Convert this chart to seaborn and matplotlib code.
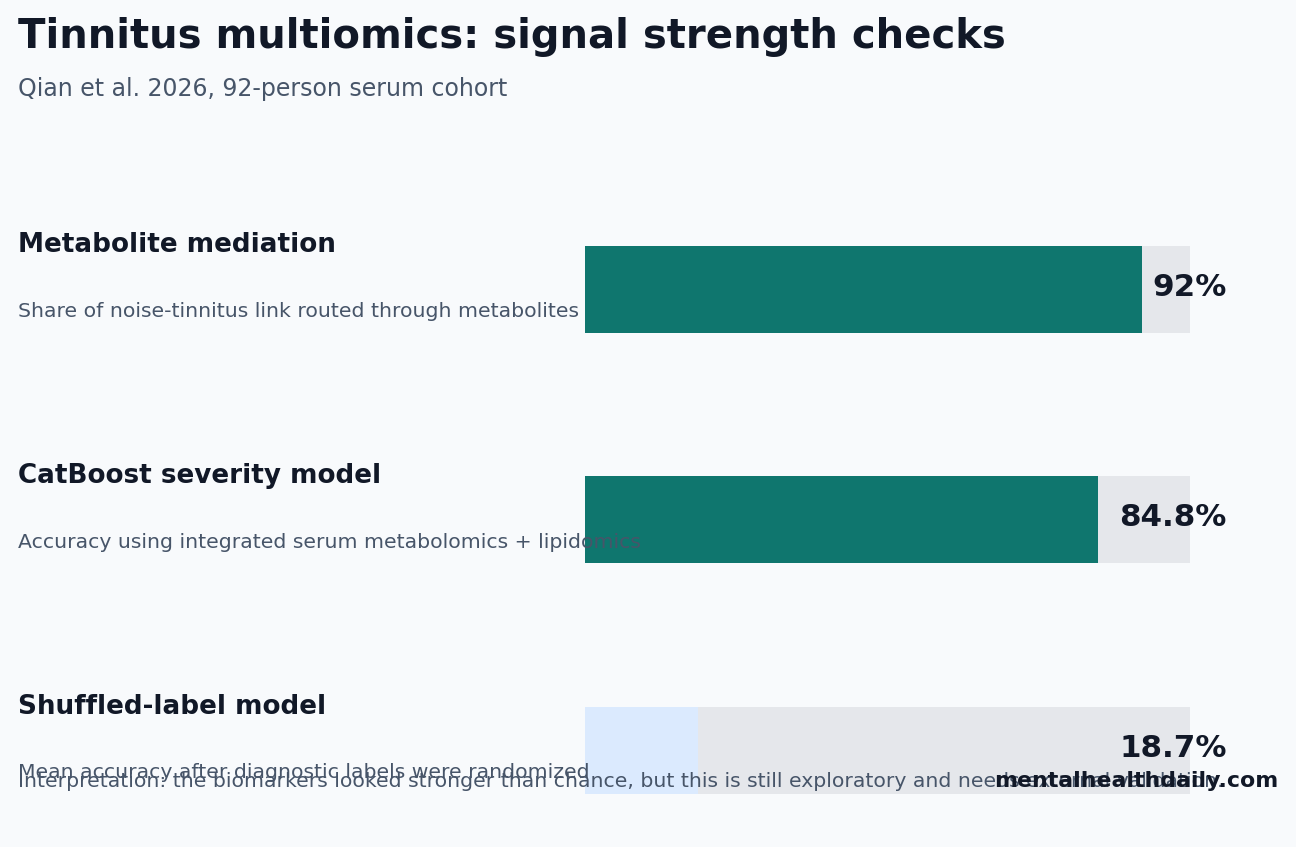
import matplotlib
matplotlib.use("Agg")
import matplotlib.pyplot as plt
import matplotlib.transforms as mtransforms
import pandas as pd
import seaborn as sns

LABELS = ["Metabolite mediation", "CatBoost severity model", "Shuffled-label model"]
DESCRIPTIONS = [
    "Share of noise-tinnitus link routed through metabolites",
    "Accuracy using integrated serum metabolomics + lipidomics",
    "Mean accuracy after diagnostic labels were randomized",
]
VALUES = [92.0, 84.8, 18.7]
VALUE_TEXT = ["92%", "84.8%", "18.7%"]
BAR_COLORS = ["#0f766e", "#0f766e", "#dbeafe"]

BG = "#f8fafc"
TRACK = "#e5e7eb"
DARK = "#111827"
MUTED = "#475569"

sns.set_theme(style="white")
plt.rcParams["font.family"] = ["DejaVu Sans"]

W, H = 1296, 847
fig = plt.figure(figsize=(W / 100, H / 100), dpi=100, facecolor=BG)

# bar area: 0..100 maps to x 585..1190 px, rows every 230.5 px starting at 289.5
x0, x1 = 585, 1190
row = 230.5
top = 289.5 - 0.5 * row
ax = fig.add_axes([x0 / W, 0, (x1 - x0) / W, 1 - top / H])
ax.set_facecolor("none")

df = pd.DataFrame({"label": LABELS, "value": VALUES, "track": [100.0] * len(VALUES)})
bar_w = 87 / row
sns.barplot(data=df, x="track", y="label", color=TRACK, width=bar_w, ax=ax,
            saturation=1, linewidth=0)
sns.barplot(data=df, x="value", y="label", hue="label", palette=BAR_COLORS,
            width=bar_w, ax=ax, saturation=1, linewidth=0, legend=False)

ax.set_xlim(0, 100)
units = (H - top) / row
ax.set_ylim(-0.5 + units, -0.5)
ax.axis("off")

blend = mtransforms.blended_transform_factory(fig.transFigure, ax.transData)
for i, (lab, desc, txt) in enumerate(zip(LABELS, DESCRIPTIONS, VALUE_TEXT)):
    ax.text(18 / W, i - 44 / row, lab, transform=blend, ha="left", va="center",
            fontsize=18.9, fontweight="bold", color=DARK)
    ax.text(18 / W, i + 22 / row, desc, transform=blend, ha="left", va="center",
            fontsize=14.7, color=MUTED)
    ax.text(106.1, i - 2 / row, txt, ha="right", va="center", fontsize=22.3,
            fontweight="bold", color=DARK, clip_on=False)

fig.text(18 / W, 1 - 37 / H, "Tinnitus multiomics: signal strength checks",
         ha="left", va="center", fontsize=28.9, fontweight="bold", color=DARK)
fig.text(18 / W, 1 - 89 / H, "Qian et al. 2026, 92-person serum cohort",
         ha="left", va="center", fontsize=17, color=MUTED)

fig.text(18 / W, 1 - 781 / H,
         "Interpretation: the biomarkers looked stronger than chance, but this is still exploratory and needs external validation.",
         ha="left", va="center", fontsize=14.7, color=MUTED)
fig.text(1278 / W, 1 - 781 / H, "mentalhealthdaily.com", ha="right", va="center",
         fontsize=15.8, fontweight="bold", color=DARK)

fig.savefig("out.png", dpi=100, facecolor=BG)
